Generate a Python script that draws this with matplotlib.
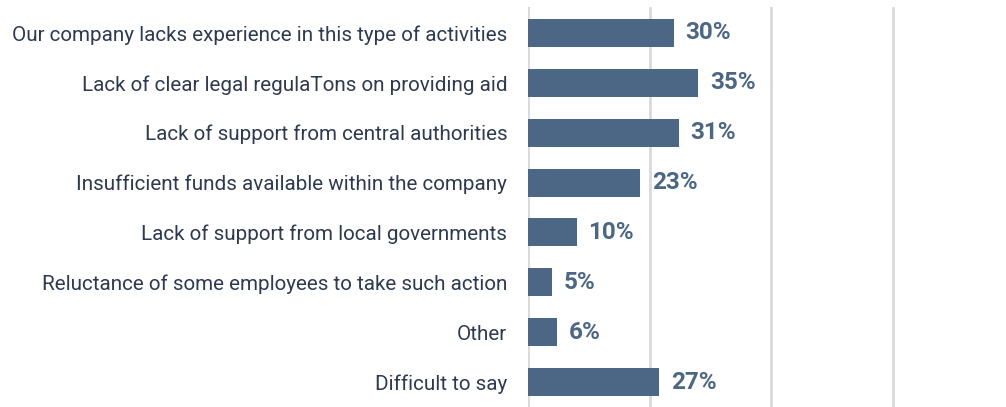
import matplotlib.pyplot as plt

categories = [
    "Our company lacks experience in this type of activities",
    "Lack of clear legal regulaTons on providing aid",
    "Lack of support from central authorities",
    "Insufficient funds available within the company",
    "Lack of support from local governments",
    "Reluctance of some employees to take such action",
    "Other",
    "Difficult to say",
]
values = [30, 35, 31, 23, 10, 5, 6, 27]
grid_ticks = [0, 25, 50, 75]

bar_color = "#4b6785"
label_color = "#2e3a52"

plt.rcParams["font.family"] = ["Roboto", "DejaVu Sans"]

fig = plt.figure(figsize=(10.06, 4.07), dpi=100)
ax = fig.add_axes([528 / 1006, 0, 1 - 528 / 1006, 400 / 407])

y = list(range(len(categories)))
ax.barh(y, values, height=0.56, color=bar_color, zorder=3)

for yi, v in zip(y, values):
    ax.text(v + 2.4, yi, f"{v}%", va="center", ha="left",
            fontsize=17.5, fontweight="bold", color=bar_color, zorder=4)

ax.set_xlim(0, 98.2)
ax.set_ylim(len(categories) - 0.5, -0.52)

ax.set_xticks(grid_ticks)
ax.xaxis.grid(True, color="#d9d9d9", linewidth=2, zorder=0)
ax.tick_params(axis="x", length=0, labelbottom=False)

ax.set_yticks(y)
ax.set_yticklabels(categories, fontsize=14.9, color=label_color)
ax.tick_params(axis="y", length=0, pad=15)

for s in ax.spines.values():
    s.set_visible(False)

fig.savefig("out.png", dpi=100)
